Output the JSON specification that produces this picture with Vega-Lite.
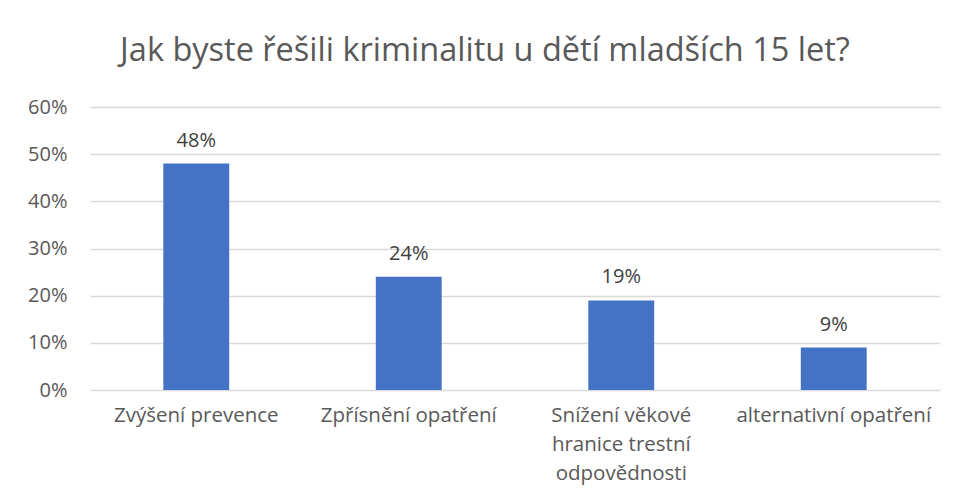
{
  "$schema": "https://vega.github.io/schema/vega-lite/v6.json",
  "autosize": {"type": "none"},
  "width": 850,
  "height": 283,
  "padding": {"left": 90, "top": 107, "right": 16, "bottom": 113},
  "background": "white",
  "title": {
    "text": "Jak byste řešili kriminalitu u dětí mladších 15 let?",
    "fontSize": 32.5,
    "font": "Open Sans",
    "fontWeight": "normal",
    "color": "#595959",
    "anchor": "middle",
    "dx": -30,
    "baseline": "alphabetic",
    "offset": 4
  },
  "data": {
    "values": [
      {"kategorie": "Zvýšení prevence", "podil": 0.48},
      {"kategorie": "Zpřísnění opatření", "podil": 0.24},
      {"kategorie": "Snížení věkové hranice trestní odpovědnosti", "podil": 0.19},
      {"kategorie": "alternativní opatření", "podil": 0.09}
    ]
  },
  "encoding": {
    "x": {
      "field": "kategorie",
      "type": "nominal",
      "sort": null,
      "scale": {"paddingInner": 0.69, "paddingOuter": 0.345},
      "axis": {
        "title": null,
        "labelAngle": 0,
        "labelFont": "Open Sans",
        "labelFontSize": 20.5,
        "labelColor": "#595959",
        "labelPadding": 15,
        "labelLineHeight": 29,
        "labelLimit": 400,
        "labelOverlap": false,
        "labelExpr": "datum.value == 'Snížení věkové hranice trestní odpovědnosti' ? ['Snížení věkové', 'hranice trestní', 'odpovědnosti'] : datum.value",
        "ticks": false,
        "domain": false,
        "grid": false
      }
    },
    "y": {
      "field": "podil",
      "type": "quantitative",
      "scale": {"domain": [0, 0.6], "nice": false},
      "axis": {
        "title": null,
        "format": ".0%",
        "values": [0, 0.1, 0.2, 0.3, 0.4, 0.5, 0.6],
        "labelFont": "Open Sans",
        "labelFontSize": 20,
        "labelColor": "#595959",
        "labelPadding": 23,
        "ticks": false,
        "domain": false,
        "gridColor": "#d9d9d9",
        "gridWidth": 1.3
      }
    }
  },
  "layer": [
    {"mark": {"type": "bar", "color": "#4472C4"}},
    {
      "mark": {"type": "text", "dy": -17, "baseline": "alphabetic", "font": "Open Sans", "fontSize": 20, "color": "#404040"},
      "encoding": {"text": {"field": "podil", "type": "quantitative", "format": ".0%"}}
    }
  ],
  "config": {"view": {"stroke": null}}
}
